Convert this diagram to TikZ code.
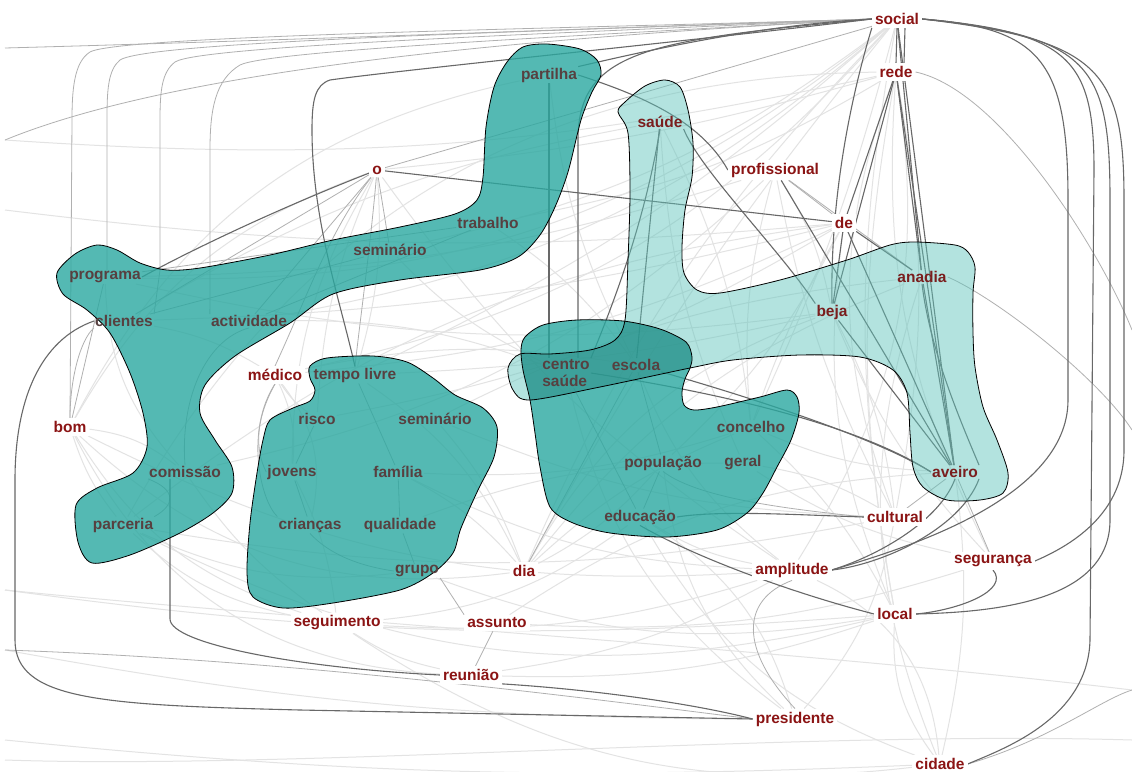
\documentclass[tikz,border=0pt]{standalone}
\usepackage{fontspec}
\setmainfont{Liberation Sans}
\pgfdeclarelayer{bg}
\pgfdeclarelayer{blobs}
\pgfsetlayers{bg,blobs,main}
\definecolor{lab}{HTML}{8B1414}
\definecolor{inlab}{HTML}{574040}
\definecolor{lightlab}{HTML}{7A1E1E}
\definecolor{bdark}{HTML}{2AA8A0}
\definecolor{blight}{HTML}{61C5BD}
\definecolor{edk}{HTML}{686868}
\definecolor{emd}{HTML}{B0B0B0}
\definecolor{elt}{HTML}{E3E3E3}
\newcommand{\labfont}{\fontsize{15.5}{17}\selectfont\bfseries}
\newcommand{\shapeA}{plot[smooth cycle, tension=0.5] coordinates {(523,47) (547,44) (580,49) (597,60) (601,75) (592,92) (581,120) (568,172) (555,207) (540,235) (518,257) (480,270) (400,280) (333,294) (290,323) (235,356) (205,385) (200,413) (215,440) (232,467) (232,493) (213,513) (180,533) (130,555) (92,563) (78,542) (76,505) (97,488) (133,473) (147,447) (143,413) (130,373) (110,333) (87,310) (63,294) (57,273) (75,254) (97,245) (117,250) (140,263) (167,270) (200,268) (270,255) (333,240) (400,227) (455,214) (477,200) (483,177) (486,127) (494,87) (507,62)}}
\newcommand{\shapeB}{plot[smooth cycle, tension=0.5] coordinates {(310,366) (327,358) (373,356) (407,362) (433,378) (455,395) (483,408) (497,427) (494,457) (478,490) (461,528) (453,553) (433,573) (400,590) (333,603) (283,608) (253,597) (247,573) (250,523) (257,473) (263,440) (270,420) (293,408) (310,401) (315,390) (310,378)}}
\newcommand{\shapeC}{plot[smooth cycle, tension=0.5] coordinates {(525,337) (543,325) (577,320) (623,321) (660,329) (686,342) (692,357) (690,368) (685,379) (682,392) (684,405) (694,410) (717,407) (760,397) (787,390) (797,397) (799,413) (791,440) (777,467) (763,493) (747,513) (717,530) (667,537) (610,533) (573,523) (550,507) (540,467) (535,433) (530,400) (523,370) (521,350)}}
\newcommand{\shapeD}{plot[smooth cycle, tension=0.5] coordinates {(618,112) (628,133) (630,193) (628,260) (625,320) (615,340) (590,350) (550,354) (520,354) (508,368) (513,390) (530,400) (600,387) (690,368) (733,360) (800,355) (860,357) (893,370) (907,393) (910,433) (913,467) (923,487) (947,500) (980,500) (1003,493) (1008,473) (997,440) (983,407) (975,367) (973,333) (973,293) (975,267) (968,252) (955,245) (915,242) (890,245) (847,260) (780,280) (720,293) (697,290) (684,273) (682,247) (685,210) (692,177) (693,143) (688,110) (680,87) (665,80) (645,86) (625,102)}}
\begin{document}
\begin{tikzpicture}[x=1pt,y=-1pt,
  lbl/.style={font=\labfont, text=lab, fill=white, inner sep=3pt},
  inw/.style={font=\labfont, text=inlab, inner sep=1pt},
  lw/.style={font=\labfont, text=lightlab, inner sep=1pt},
  ed/.style={draw=edk, line width=1.1pt},
  em/.style={draw=emd, line width=0.8pt},
  el/.style={draw=elt, line width=1pt},
  blobedge/.style={draw=black, line width=0.8pt}]
\useasboundingbox (0,0) rectangle (1132,771);
% ---------------- nodes ----------------
\node[lbl] (social) at (897,19) {social};
\node[lbl] (rede) at (896,72) {rede};
\node[lbl] (prof) at (775,170) {profissional};
\node[lbl] (de) at (844,223) {de};
\node[lbl] (o) at (377,170) {o};
\node[inw] (partilha) at (549,75) {partilha};
\node[lw] (saude) at (660,122) {saúde};
\node[inw] (trabalho) at (488,223) {trabalho};
\node[inw] (semA) at (390,250) {seminário};
\node[inw] (programa) at (105,277) {programa};
\node[inw] (clientes) at (124,321) {clientes};
\node[inw] (activ) at (249,321) {actividade};
\node[lbl] (medico) at (275,375) {médico};
\node[inw] (tempo) at (355,375) {tempo livre};
\node[lbl] (bom) at (70,427) {bom};
\node[inw] (risco) at (317,419) {risco};
\node[inw] (semB) at (435,419) {seminário};
\node[inw] (comissao) at (185,472) {comissão};
\node[inw] (jovens) at (292,472) {jovens};
\node[inw] (familia) at (398,472) {família};
\node[inw] (parceria) at (123,525) {parceria};
\node[inw] (criancas) at (310,525) {crianças};
\node[inw] (qualidade) at (400,525) {qualidade};
\node[inw] (grupo) at (417,571) {grupo};
\node[lbl] (dia) at (524,571) {dia};
\node[lbl] (seguimento) at (337,623) {seguimento};
\node[lbl] (assunto) at (497,623) {assunto};
\node[lbl] (reuniao) at (471,675) {reunião};
\node[inw, align=left] (centro) at (566,373) {centro\\saúde};
\node[inw] (escola) at (636,365) {escola};
\node[inw] (concelho) at (751,427) {concelho};
\node[inw] (populacao) at (663,463) {população};
\node[inw] (geral) at (743,463) {geral};
\node[inw] (educacao) at (640,517) {educação};
\node[lbl] (cultural) at (895,517) {cultural};
\node[lbl] (amplitude) at (792,570) {amplitude};
\node[lbl] (seguranca) at (993,561) {segurança};
\node[lbl] (local) at (895,614) {local};
\node[lbl] (presidente) at (795,719) {presidente};
\node[lbl] (cidade) at (940,764) {cidade};
\node[lw] (anadia) at (922,277) {anadia};
\node[lw] (beja) at (832,312) {beja};
\node[lw] (aveiro) at (955,472) {aveiro};
\coordinate (wA) at (5,48);
\coordinate (wB) at (5,140);
\coordinate (wC) at (5,210);
\coordinate (wD) at (5,590);
\coordinate (wE) at (5,650);
\coordinate (wF) at (5,740);
\coordinate (wG) at (5,760);
\coordinate (eA) at (1132,690);
\coordinate (eB) at (1132,430);
\coordinate (eC) at (1132,740);
\coordinate (eD) at (1132,330);
% ---------------- edges ----------------
\begin{pgfonlayer}{bg}
\fill[white] (0,0) rectangle (1132,771);
\foreach \a/\b/\bb in {programa/social/-20, bom/o/20, bom/partilha/25, parceria/de/15, parceria/rede/30, comissao/prof/-15, clientes/saude/10, programa/beja/-10, bom/dia/-25, bom/reuniao/-30, parceria/local/-20, seguimento/cidade/-20, medico/de/-10, medico/escola/10, tempo/beja/-5, semB/anadia/10, familia/concelho/-10, qualidade/geral/10, dia/beja/20, dia/anadia/15, dia/social/10, assunto/seguranca/-10, assunto/aveiro/15, amplitude/rede/-20, amplitude/o/10, cultural/rede/20, local/de/15, presidente/educacao/-20, presidente/populacao/20, presidente/cultural/-15, cidade/amplitude/-30, cidade/local/20, grupo/local/-15, seguimento/amplitude/-10, seguimento/educacao/-15, reuniao/amplitude/-10, reuniao/local/-10, dia/concelho/10, dia/populacao/-10, o/tempo/10, o/risco/-10, o/jovens/-15, prof/beja/10, prof/concelho/-10, saude/concelho/10, saude/geral/-10, partilha/escola/-10, trabalho/escola/10, semA/centro/-10, activ/centro/10, medico/jovens/15, medico/criancas/25, medico/risco/-10, de/populacao/10, de/concelho/-5, rede/cultural/10, rede/local/-10, social/local/-10, social/dia/-5, social/concelho/5, anadia/cidade/-20, beja/seguranca/-10, aveiro/cidade/10, bom/seguimento/-20, comissao/seguimento/-10, parceria/grupo/-15, clientes/medico/10, programa/comissao/-20, semB/dia/10, tempo/dia/15, familia/dia/10, geral/cultural/10, concelho/aveiro/-10, educacao/amplitude/-10, educacao/cidade/-20, centro/presidente/-20, escola/amplitude/-15, wB/rede/-8, wC/de/-6, wD/local/-6, wE/presidente/-5, wF/cidade/-4, programa/prof/-8, clientes/de/-6, bom/amplitude/-15, parceria/cultural/-10, o/rede/-5, trabalho/rede/-10, semA/social/-12, activ/social/-15, medico/social/-18, bom/comissao/15, bom/parceria/-10, parceria/seguimento/-15, seguimento/reuniao/-10, jovens/seguimento/10, tempo/social/-8, risco/de/-10, semB/cultural/-10, familia/amplitude/-12, concelho/local/10, geral/seguranca/-10, beja/cultural/10, rede/seguranca/-15, prof/cultural/-8}
  {\draw[el] (\a) to[bend left=\bb] (\b);}
\draw[el] (wG) .. controls (300,770) and (800,730) .. (eC);
\draw[el] (wD) .. controls (300,620) and (800,650) .. (eA);
% medium
\draw[em] (wA) .. controls (300,40) and (600,28) .. (social.west);
\draw[em] (wB) .. controls (200,60) and (600,35) .. (social.west);
\draw[em] (social.west) .. controls (600,28) and (120,35) .. (90,52) .. controls (74,62) and (72,90) .. (72,120) -- (bom.north);
\draw[em] (social.west) .. controls (600,30) and (150,40) .. (120,60) .. controls (108,70) and (107,90) .. (107,120) -- ([xshift=2pt]programa.north);
\draw[em] (social.west) .. controls (600,32) and (200,45) .. (175,62) .. controls (162,72) and (160,90) .. (160,120) -- (160,270) -- (clientes.north east);
\draw[em] (social.west) .. controls (600,35) and (270,50) .. (240,65) .. controls (215,80) and (210,110) .. (210,150) -- (activ.north west);
\draw[em] (o) -- (semA);
\draw[em] (o) -- (activ);
\draw[em] (o) .. controls (330,230) and (310,290) .. (medico.north);
\draw[em] (o) -- (clientes);
\draw[em] (o) -- (social);
\draw[em] (o) .. controls (370,250) and (360,320) .. (tempo.north);
\draw[em] (prof) -- (de);
\draw[em] (prof) -- (anadia);
\draw[em] (bom.north) .. controls (70,380) and (80,340) .. (clientes.south west);
\draw[em] (programa) -- (bom);
\draw[em] (grupo.south east) -- (assunto.north west);
\draw[em] (assunto) -- (reuniao);
\draw[em] (tempo) -- (familia);
\draw[em] (risco) -- (jovens);
\draw[em] (jovens) -- (criancas);
\draw[em] (familia) -- (qualidade);
\draw[em] (qualidade) -- (grupo);
\draw[em] (criancas.south) .. controls (330,555) and (360,566) .. (grupo.west);
\draw[em] (parceria.north east) .. controls (175,505) and (177,490) .. (comissao.south west);
\draw[em] (comissao.north) .. controls (180,400) and (205,340) .. (activ.south);
\draw[em] (trabalho) -- (activ);
\draw[em] (clientes) -- (semA);
\draw[em] (programa) -- (trabalho);
\draw[em] (medico.south) .. controls (255,420) and (255,450) .. (jovens.west);
\draw[em] (medico.south) .. controls (245,430) and (260,500) .. (criancas.north west);
\draw[em] (populacao) -- (educacao);
\draw[em] (populacao.south) .. controls (700,500) and (800,510) .. (cultural.west);
\draw[em] (centro) -- (educacao);
\draw[em] (escola) -- (populacao);
\draw[em] (cultural) -- (aveiro);
\draw[em] (seguranca) -- (aveiro);
\draw[em] (dia) -- (escola);
\draw[em] (presidente.north) .. controls (740,650) and (740,600) .. (amplitude.south);
\draw[em] (cidade.east) .. controls (1050,740) and (1100,700) .. (eA);
\draw[em] (anadia.east) .. controls (1000,300) and (1100,380) .. (eB);
\draw[em] (rede.east) .. controls (1000,90) and (1100,250) .. (eD);
\draw[em] (wE) .. controls (300,660) and (600,700) .. (presidente.west);
% dark
\draw[ed] (o) -- (de);
\draw[ed] (o) .. controls (300,200) and (210,240) .. (programa.east);
\draw[ed] (partilha.south) -- (partilha.south |- centro.north);
\draw[ed] (social.west) .. controls (650,40) and (578,50) .. (578,140) -- ([xshift=12pt]centro.north);
\draw[ed] (partilha.east) .. controls (640,95) and (700,120) .. (prof.west);
\draw[ed] (partilha.north east) .. controls (650,50) and (760,25) .. (social.west);
\draw[ed] (saude) -- (escola);
\draw[ed] (saude.south) .. controls (645,220) and (615,300) .. (centro.north east);
\draw[ed] (saude.south east) .. controls (700,170) and (780,250) .. (beja.north west);
\draw[ed] (social.south) -- (rede.north);
\draw[ed] ([xshift=8pt]social.south) -- ([xshift=8pt]rede.north);
\draw[ed] (rede) -- (anadia);
\draw[ed] (rede) -- (aveiro);
\draw[ed] (rede) -- (beja);
\draw[ed] (rede) -- (de);
\draw[ed] (social) -- (anadia);
\draw[ed] (social) -- (aveiro);
\draw[ed] (social.south west) .. controls (850,100) and (830,200) .. (beja.north);
\draw[ed] (de) -- (beja);
\draw[ed] (de) -- (anadia);
\draw[ed] (de) -- (aveiro);
\draw[ed] (prof) -- (aveiro);
\draw[ed] (anadia) -- (aveiro);
\draw[ed] (anadia.south) .. controls (930,350) and (960,420) .. (aveiro.north east);
\draw[ed] (beja) -- (aveiro);
\draw[ed] (centro.east) .. controls (700,390) and (850,420) .. (aveiro.west);
\draw[ed] (escola.south east) .. controls (760,400) and (880,440) .. (aveiro.west);
\draw[ed] (educacao.east) .. controls (720,510) and (800,515) .. (cultural.west);
\draw[ed] (educacao.south) .. controls (700,560) and (800,595) .. (local.west);
\draw[ed] (amplitude.east) .. controls (880,555) and (940,520) .. (aveiro.south);
\draw[ed] (amplitude.east) .. controls (880,565) and (960,530) .. (aveiro.south east);
\draw[ed] (local.east) .. controls (960,610) and (1010,590) .. (seguranca.south);
\draw[ed] (social.east) .. controls (1040,28) and (1068,60) .. (1068,200) -- (1068,400) .. controls (1068,500) and (900,550) .. (amplitude.east);
\draw[ed] (social.east) .. controls (1070,32) and (1094,60) .. (1094,170) -- (1090,640) .. controls (1088,720) and (1000,750) .. (cidade.east);
\draw[ed] (social.east) .. controls (1090,36) and (1110,65) .. (1110,200) -- (1110,520) .. controls (1110,600) and (1000,612) .. (local.east);
\draw[ed] (social.east) .. controls (1100,40) and (1124,70) .. (1124,200) -- (1124,450) .. controls (1124,520) and (1060,550) .. (seguranca.east);
\draw[ed] ([xshift=-15pt]comissao.south) -- ++(0,140) .. controls +(0,25) and (300,668) .. (reuniao.west);
\draw[ed] (reuniao.south east) .. controls (600,690) and (700,705) .. (presidente.west);
\draw[ed] (clientes.west) .. controls (40,340) and (15,400) .. (15,480) -- (15,640) .. controls (15,700) and (100,705) .. (300,710) -- (presidente.west);
\draw[ed] (social.west) .. controls (700,40) and (400,70) .. (330,80) .. controls (315,85) and (312,100) .. (312,130) .. controls (312,220) and (340,300) .. (tempo.north);
\end{pgfonlayer}
% ---------------- blobs ----------------
\begin{pgfonlayer}{blobs}
\fill[blight, fill opacity=0.48] \shapeD;
\fill[bdark, fill opacity=0.8] \shapeA;
\fill[bdark, fill opacity=0.8] \shapeB;
\fill[bdark, fill opacity=0.8] \shapeC;
\begin{scope}
\clip \shapeC;
\fill[black, fill opacity=0.1] \shapeD;
\end{scope}
\draw[blobedge] \shapeA;
\draw[blobedge] \shapeB;
\draw[blobedge] \shapeC;
\draw[blobedge] \shapeD;
\end{pgfonlayer}
\end{tikzpicture}
\end{document}
